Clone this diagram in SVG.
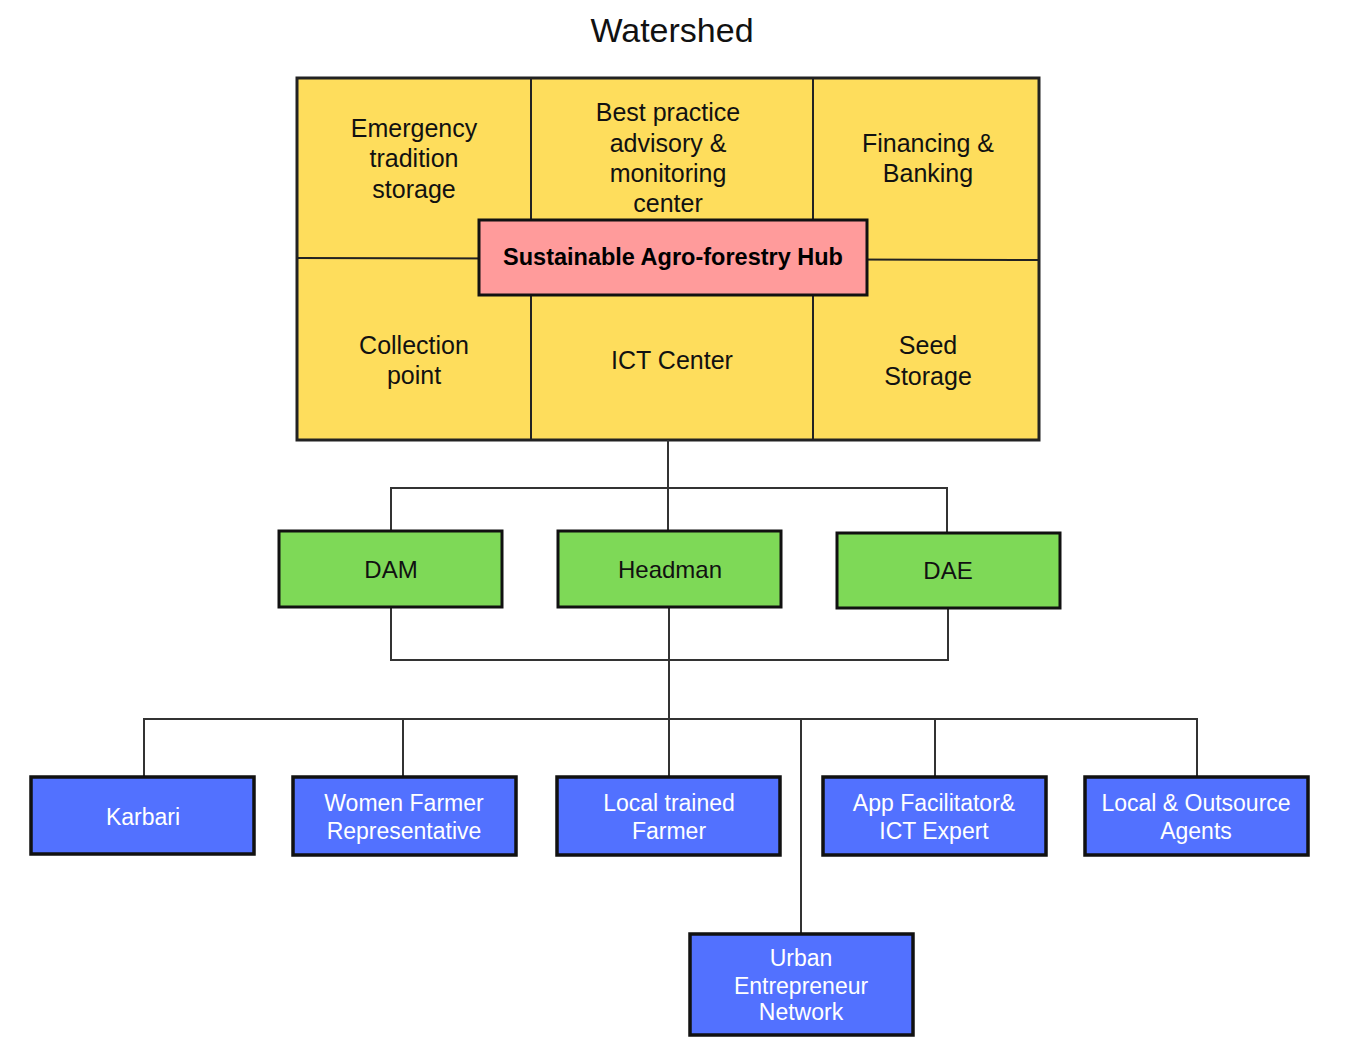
<svg xmlns="http://www.w3.org/2000/svg" width="1348" height="1052" viewBox="0 0 1348 1052">
<style>
text{font-family:"Liberation Sans",Arial,sans-serif;text-anchor:middle}
.cell{fill:#FEDD5C;stroke:none}
.grid{stroke:#222;stroke-width:2;fill:none}
.ct{font-size:25px;fill:#111}
.hub{fill:#FF9B9B;stroke:#111;stroke-width:3}
.ht{font-size:23.5px;font-weight:bold;fill:#000}
.g{fill:#7ED957;stroke:#111;stroke-width:3}
.gt{font-size:24px;fill:#111}
.b{fill:#5271FF;stroke:#111;stroke-width:3.5}
.bt{font-size:23px;fill:#fff}
.conn{stroke:#333;stroke-width:2;fill:none}
</style>
<rect width="1348" height="1052" fill="#fff"/>
<text x="672" y="42" style="font-size:34px;fill:#111">Watershed</text>

<g id="grid-frame">
<rect x="297" y="78" width="742" height="362" class="cell"/>
<line class="grid" x1="531" y1="78" x2="531" y2="440"/>
<line class="grid" x1="813" y1="78" x2="813" y2="440"/>
<line class="grid" x1="297" y1="258" x2="1039" y2="260"/>
<rect x="297" y="78" width="742" height="362" fill="none" stroke="#222" stroke-width="3"/>
</g>
<g id="cell-emergency">
<text class="ct" x="414" y="137">Emergency</text>
<text class="ct" x="414" y="167">tradition</text>
<text class="ct" x="414" y="198">storage</text>
</g>
<g id="cell-bestpractice">
<text class="ct" x="668" y="121">Best practice</text>
<text class="ct" x="668" y="152">advisory &amp;</text>
<text class="ct" x="668" y="182">monitoring</text>
<text class="ct" x="668" y="212">center</text>
</g>
<g id="cell-financing">
<text class="ct" x="928" y="152">Financing &amp;</text>
<text class="ct" x="928" y="182">Banking</text>
</g>
<g id="cell-collection">
<text class="ct" x="414" y="354">Collection</text>
<text class="ct" x="414" y="384">point</text>
</g>
<g id="cell-ict">
<text class="ct" x="672" y="369">ICT Center</text>
</g>
<g id="cell-seed">
<text class="ct" x="928" y="354">Seed</text>
<text class="ct" x="928" y="385">Storage</text>
</g>
<g id="hub">
<rect class="hub" x="479" y="220" width="388" height="75"/>
<text class="ht" x="673" y="265">Sustainable Agro-forestry Hub</text>
</g>

<g id="connectors">
<path class="conn" d="M668 440 V488 M391 531 V488 H947 V532 M668 488 V531"/>
<path class="conn" d="M391 607 V660 H948 V608 M669 607 V719"/>
<path class="conn" d="M144 777 V719 H1197 V777 M403 719 V777 M669 719 V777 M801 719 V934 M935 719 V777"/>
</g>

<g id="dam"><rect class="g" x="279" y="531" width="223" height="76"/><text class="gt" x="391" y="578">DAM</text></g>
<g id="headman"><rect class="g" x="558" y="531" width="223" height="76"/><text class="gt" x="670" y="578">Headman</text></g>
<g id="dae"><rect class="g" x="837" y="533" width="223" height="75"/><text class="gt" x="948" y="579">DAE</text></g>

<g id="karbari"><rect class="b" x="31" y="777" width="223" height="77"/><text class="bt" x="143" y="825">Karbari</text></g>
<g id="women"><rect class="b" x="293" y="777" width="223" height="78"/><text class="bt" x="404" y="811">Women Farmer</text><text class="bt" x="404" y="839">Representative</text></g>
<g id="localtrained"><rect class="b" x="557" y="777" width="223" height="78"/><text class="bt" x="669" y="811">Local trained</text><text class="bt" x="669" y="839">Farmer</text></g>
<g id="app"><rect class="b" x="823" y="777" width="223" height="78"/><text class="bt" x="934" y="811">App Facilitator&amp;</text><text class="bt" x="934" y="839">ICT Expert</text></g>
<g id="agents"><rect class="b" x="1085" y="777" width="223" height="78"/><text class="bt" x="1196" y="811">Local &amp; Outsource</text><text class="bt" x="1196" y="839">Agents</text></g>
<g id="urban"><rect class="b" x="690" y="934" width="223" height="101"/><text class="bt" x="801" y="966">Urban</text><text class="bt" x="801" y="994">Entrepreneur</text><text class="bt" x="801" y="1020">Network</text></g>
</svg>
